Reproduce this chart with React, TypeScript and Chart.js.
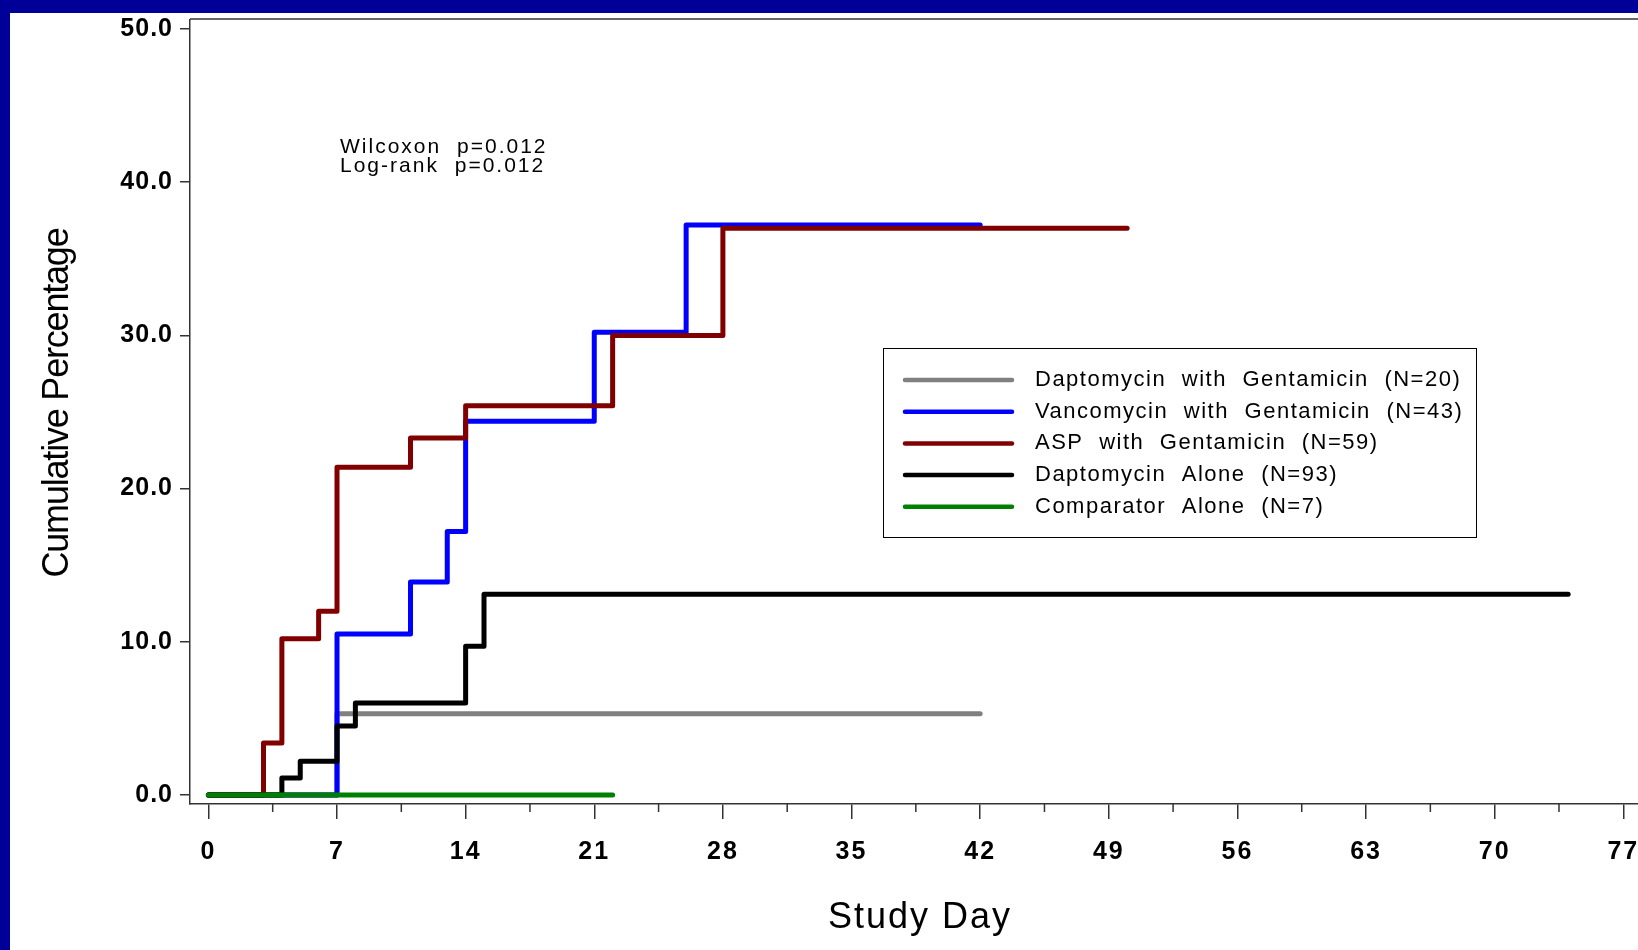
import React, { useEffect, useRef } from 'react';
import { Chart, registerables } from 'chart.js';

Chart.register(...registerables);

const seriesNames = [
  'Daptomycin with Gentamicin (N=20)',
  'Vancomycin with Gentamicin (N=43)',
  'ASP with Gentamicin (N=59)',
  'Daptomycin Alone (N=93)',
  'Comparator Alone (N=7)',
];
const seriesColors = ['#808080', '#0000FF', '#800000', '#000000', '#008000'];
// drawing order: lower = on top
const seriesDrawOrder = [4, 3, 2, 1, 0];

const dapGentDays = [0, 7, 42];
const dapGentPct = [0, 5.3, 5.3];
const vancGentDays = [0, 7, 11, 13, 14, 21, 26, 42];
const vancGentPct = [0, 10.5, 13.9, 17.2, 24.4, 30.2, 37.2, 37.2];
const aspGentDays = [0, 3, 4, 6, 7, 11, 14, 22, 28, 50];
const aspGentPct = [0, 3.4, 10.2, 12.0, 21.4, 23.3, 25.4, 30.0, 37.0, 37.0];
const dapAloneDays = [0, 4, 5, 7, 8, 14, 15, 74];
const dapAlonePct = [0, 1.1, 2.2, 4.5, 6.0, 9.7, 13.1, 13.1];
const compAloneDays = [0, 22];
const compAlonePct = [0, 0];

const seriesDays = [dapGentDays, vancGentDays, aspGentDays, dapAloneDays, compAloneDays];
const seriesPct = [dapGentPct, vancGentPct, aspGentPct, dapAlonePct, compAlonePct];

const xTickValues = [0, 7, 14, 21, 28, 35, 42, 49, 56, 63, 70, 77];
const xMinorTickValues = [3.5, 10.5, 17.5, 24.5, 31.5, 38.5, 45.5, 52.5, 59.5, 66.5, 73.5];
const yTickValues = [0, 10, 20, 30, 40, 50];
const statLines = ['Wilcoxon p=0.012', 'Log-rank p=0.012'];

const FONT = "'Liberation Sans', Arial, Helvetica, sans-serif";

function wrapDraw(s: any, method: string, spacing: string, dx = 0, dy = 0) {
  const key = '__sp_' + method;
  if (s[key]) return;
  const orig = s[method];
  s[method] = function (...args: any[]) {
    const ctx = s.ctx;
    ctx.save();
    ctx.letterSpacing = spacing;
    ctx.translate(dx, dy);
    orig.apply(s, args);
    ctx.restore();
  };
  s[key] = true;
}

const decorPlugin = {
  id: 'decor',
  beforeDraw(chart: any) {
    const { ctx, width, height } = chart;
    ctx.save();
    ctx.fillStyle = '#ffffff';
    ctx.fillRect(0, 0, width, height);
    ctx.fillStyle = '#000099';
    ctx.fillRect(0, 0, width, 13);
    ctx.fillRect(0, 0, 10, height);
    ctx.restore();
  },
  afterDraw(chart: any) {
    const { ctx, chartArea } = chart;
    const xs = chart.scales.x;
    ctx.save();
    // top frame line
    ctx.strokeStyle = '#333333';
    ctx.lineWidth = 1.5;
    ctx.beginPath();
    ctx.moveTo(chartArea.left, chartArea.top - 1);
    ctx.lineTo(chartArea.right, chartArea.top - 1);
    ctx.stroke();
    // minor x ticks
    ctx.beginPath();
    for (const v of xMinorTickValues) {
      const px = xs.getPixelForValue(v);
      ctx.moveTo(px, xs.top);
      ctx.lineTo(px, xs.top + 8);
    }
    ctx.stroke();

    // statistics text
    ctx.fillStyle = '#000';
    ctx.font = `21px ${FONT}`;
    ctx.textBaseline = 'middle';
    ctx.textAlign = 'left';
    (ctx as any).letterSpacing = '2px';
    (ctx as any).wordSpacing = '8px';
    statLines.forEach((t, i) => ctx.fillText(t, 340, 147 + i * 19));

    // legend
    const bx = 883, by = 348, bw = 593, bh = 189;
    ctx.lineWidth = 1;
    ctx.strokeStyle = '#000';
    ctx.strokeRect(bx + 0.5, by + 0.5, bw, bh);
    ctx.font = `22px ${FONT}`;
    (ctx as any).letterSpacing = '1.5px';
    (ctx as any).wordSpacing = '8px';
    chart.data.datasets.forEach((ds: any, i: number) => {
      const y = 380 + i * 31.7;
      ctx.strokeStyle = ds.borderColor;
      ctx.lineWidth = 4.5;
      ctx.lineCap = 'round';
      ctx.beginPath();
      ctx.moveTo(905, y);
      ctx.lineTo(1012, y);
      ctx.stroke();
      ctx.fillStyle = '#000';
      ctx.fillText(ds.label, 1035, y);
    });
    ctx.restore();
  },
};

export default function App() {
  const canvasRef = useRef<HTMLCanvasElement | null>(null);

  useEffect(() => {
    document.body.style.margin = '0';
    const canvas = canvasRef.current;
    if (!canvas) return;
    Chart.defaults.font.family = FONT;
    const datasets = seriesNames.map((name, i) => ({
      label: name,
      data: seriesDays[i].map((d, j) => ({ x: d, y: seriesPct[i][j] })),
      borderColor: seriesColors[i],
      backgroundColor: seriesColors[i],
      borderWidth: 5,
      borderCapStyle: 'round' as const,
      borderJoinStyle: 'round' as const,
      pointRadius: 0,
      stepped: 'before' as const,
      fill: false,
      order: seriesDrawOrder[i],
    }));

    const chart = new Chart(canvas, {
      type: 'line',
      data: { datasets },
      plugins: [decorPlugin],
      options: {
        animation: false,
        responsive: false,
        devicePixelRatio: 1,
        layout: { padding: { left: 0, top: 20, right: 0, bottom: 0 } },
        plugins: {
          legend: { display: false },
          tooltip: { enabled: false },
        },
        scales: {
          x: {
            type: 'linear',
            position: 'bottom',
            min: -1,
            max: 77.8,
            afterBuildTicks: (s: any) => {
              s.ticks = xTickValues.map((v) => ({ value: v }));
            },
            afterFit: (s: any) => {
              s.height = 146;
              s.paddingLeft = 0;
              s.paddingRight = 0;
              wrapDraw(s, 'drawLabels', '2px');
              wrapDraw(s, 'drawTitle', '2px', 6, 0);
            },
            ticks: {
              autoSkip: false,
              maxRotation: 0,
              color: '#000',
              padding: 18,
              font: { size: 25, weight: 'bold', family: FONT },
              callback: (v: any) => String(v),
            },
            grid: {
              drawOnChartArea: false,
              drawTicks: true,
              tickLength: 15,
              color: '#333333',
              lineWidth: 1.5,
            },
            border: { display: true, color: '#333333', width: 1.5 },
            title: {
              display: true,
              text: 'Study Day',
              color: '#000',
              font: { size: 36, family: FONT },
              padding: { top: 0, bottom: 10 },
            },
          },
          y: {
            type: 'linear',
            position: 'left',
            min: -0.59,
            max: 50.59,
            afterBuildTicks: (s: any) => {
              s.ticks = yTickValues.map((v) => ({ value: v }));
            },
            afterFit: (s: any) => {
              s.width = 190;
              s.paddingTop = 0;
              s.paddingBottom = 0;
              wrapDraw(s, 'drawLabels', '1px');
              wrapDraw(s, 'drawTitle', '-1.2px', 0, -9);
            },
            ticks: {
              color: '#000',
              padding: 7,
              font: { size: 25, weight: 'bold', family: FONT },
              callback: (v: any) => Number(v).toFixed(1),
            },
            grid: {
              drawOnChartArea: false,
              drawTicks: true,
              tickLength: 10,
              color: '#333333',
              lineWidth: 1.5,
            },
            border: { display: true, color: '#333333', width: 1.5 },
            title: {
              display: true,
              text: 'Cumulative Percentage',
              color: '#000',
              font: { size: 36, family: FONT },
              padding: { top: 36, bottom: 0 },
            },
          },
        },
      },
    } as any);
    return () => chart.destroy();
  }, []);

  return (
    <div style={{ position: 'absolute', left: 0, top: 0, width: 1638, height: 950 }}>
      <canvas ref={canvasRef} width={1638} height={950} style={{ width: 1638, height: 950, display: 'block' }} />
    </div>
  );
}
